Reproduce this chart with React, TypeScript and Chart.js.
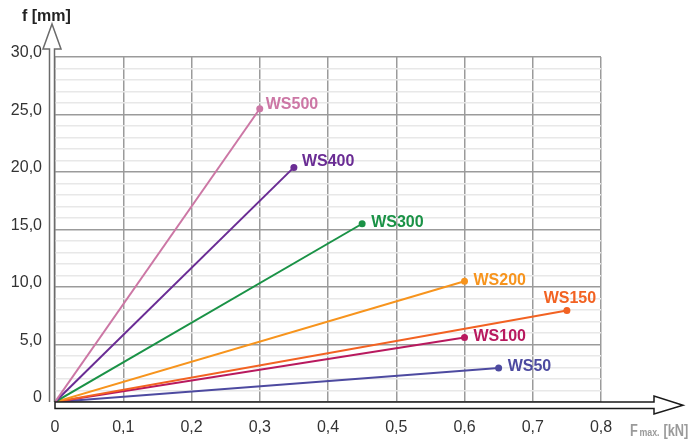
import React, { useEffect, useRef } from 'react';
import { Chart, registerables } from 'chart.js';

Chart.register(...registerables);

// ---- data ----
const seriesNames = ['WS500', 'WS400', 'WS300', 'WS200', 'WS150', 'WS100', 'WS50'];
const maxForce = [0.3, 0.35, 0.45, 0.6, 0.75, 0.6, 0.65];
const maxDeflection = [25.5, 20.4, 15.5, 10.5, 7.95, 5.6, 2.95];
const seriesColors = ['#cc77a5', '#6a2c94', '#1a9246', '#f7941d', '#f26222', '#b8195e', '#4d4aa0'];
const xMin = 0;
const xMax = 0.8;
const xStep = 0.1;
const yMin = 0;
const yMax = 30;
const yMinorStep = 1;
const yMajorStep = 5;
const yAxisTitle = 'f [mm]';
const xAxisTitleMain = 'F';
const xAxisTitleSub = 'max.';
const xAxisTitleUnit = '[kN]';

const FONT = '"Liberation Sans", Arial, sans-serif';

const fmtDecimal = (v: number, digits: number) => {
  if (Math.abs(v) < 1e-9) return '0';
  return v.toFixed(digits).replace('.', ',');
};

const decorPlugin = {
  id: 'decor',
  afterDraw(chart: any) {
    const ctx = chart.ctx as CanvasRenderingContext2D;
    const xs = chart.scales.x;
    const ys = chart.scales.y;
    const area = chart.chartArea;
    const x0 = xs.getPixelForValue(0);
    const y0 = ys.getPixelForValue(0);

    ctx.save();
    // series end labels
    ctx.font = `bold 16px ${FONT}`;
    chart.data.datasets.forEach((ds: any, i: number) => {
      const meta = chart.getDatasetMeta(i);
      const pt = meta.data[meta.data.length - 1];
      if (!pt) return;
      ctx.fillStyle = ds.borderColor;
      const name = ds.label;
      if (name === 'WS150') {
        ctx.textAlign = 'center';
        ctx.textBaseline = 'middle';
        ctx.fillText(name, pt.x + 3, pt.y - 12);
      } else {
        let dx = 9;
        let dy = -1;
        if (name === 'WS500') { dx = 6; dy = -4; }
        if (name === 'WS400') { dx = 8; dy = -6; }
        ctx.textAlign = 'left';
        ctx.textBaseline = 'middle';
        ctx.fillText(name, pt.x + dx, pt.y + dy);
      }
    });

    // y axis arrow
    ctx.lineWidth = 1.5;
    ctx.strokeStyle = '#6b6b6b';
    ctx.fillStyle = '#ffffff';
    ctx.beginPath();
    ctx.moveTo(x0 - 5.5, y0);
    ctx.lineTo(x0 - 5.5, area.top - 8);
    ctx.lineTo(x0 - 12, area.top - 8);
    ctx.lineTo(x0 - 3, area.top - 33);
    ctx.lineTo(x0 + 6, area.top - 8);
    ctx.lineTo(x0 - 0.5, area.top - 8);
    ctx.lineTo(x0 - 0.5, y0);
    ctx.stroke();

    // x axis arrow
    ctx.strokeStyle = '#1a1a1a';
    ctx.beginPath();
    ctx.moveTo(x0, y0);
    ctx.lineTo(area.right + 53, y0);
    ctx.lineTo(area.right + 53, y0 - 6);
    ctx.lineTo(area.right + 82, y0 + 3.3);
    ctx.lineTo(area.right + 53, y0 + 12);
    ctx.lineTo(area.right + 53, y0 + 6.5);
    ctx.lineTo(x0, y0 + 6.5);
    ctx.closePath();
    ctx.fill();
    ctx.stroke();

    // y axis title
    ctx.fillStyle = '#222222';
    ctx.font = `bold 16px ${FONT}`;
    ctx.textAlign = 'left';
    ctx.textBaseline = 'alphabetic';
    ctx.fillText(yAxisTitle, x0 - 33, area.top - 36);

    // x axis title (slightly condensed)
    ctx.fillStyle = '#9a9a9a';
    ctx.translate(area.right + 29, y0 + 33.5);
    ctx.scale(0.8, 1);
    let tx = 0;
    ctx.font = `bold 16px ${FONT}`;
    ctx.fillText(xAxisTitleMain, tx, 0);
    tx += ctx.measureText(xAxisTitleMain).width + 2;
    ctx.font = `bold 11px ${FONT}`;
    ctx.fillText(xAxisTitleSub, tx, 0);
    tx += ctx.measureText(xAxisTitleSub).width + 5;
    ctx.font = `bold 16px ${FONT}`;
    ctx.fillText(xAxisTitleUnit, tx, 0);
    ctx.restore();
  },
};

export default function App() {
  const canvasRef = useRef<HTMLCanvasElement | null>(null);

  useEffect(() => {
    if (!canvasRef.current) return;
    const datasets = seriesNames.map((name, i) => ({
      label: name,
      data: [
        { x: 0, y: 0 },
        { x: maxForce[i], y: maxDeflection[i] },
      ],
      borderColor: seriesColors[i],
      backgroundColor: seriesColors[i],
      borderWidth: 2,
      pointRadius: [0, 3.5],
      pointHoverRadius: [0, 3.5],
      pointBorderWidth: 0,
      showLine: true,
      fill: false,
      tension: 0,
    }));

    const chart = new Chart(canvasRef.current, {
      type: 'line',
      data: { datasets },
      plugins: [decorPlugin],
      options: {
        animation: false,
        responsive: true,
        maintainAspectRatio: false,
        layout: { padding: { left: 0, top: 57, right: 88, bottom: 0 } },
        plugins: {
          legend: { display: false },
          tooltip: { enabled: false },
        },
        scales: {
          x: {
            type: 'linear',
            min: xMin,
            max: xMax,
            afterFit: (s: any) => {
              s.height = 39;
            },
            ticks: {
              stepSize: xStep,
              color: '#333333',
              font: { family: FONT, size: 16 },
              padding: 16,
              maxRotation: 0,
              autoSkip: false,
              callback: (v: any) => fmtDecimal(Number(v), 1),
            },
            grid: { color: '#9b9b9b', lineWidth: 1.5, drawTicks: false },
            border: { display: false },
          },
          y: {
            type: 'linear',
            min: yMin,
            max: yMax,
            afterFit: (s: any) => {
              s.width = 55;
            },
            ticks: {
              stepSize: yMinorStep,
              autoSkip: false,
              color: '#333333',
              font: { family: FONT, size: 16 },
              padding: 13,
              labelOffset: -4,
              callback: (v: any) => {
                const n = Number(v);
                return n % yMajorStep === 0 ? fmtDecimal(n, 1) : '';
              },
            },
            grid: {
              drawTicks: false,
              color: (c: any) =>
                c.tick && Math.round(c.tick.value) % yMajorStep === 0 ? '#9b9b9b' : '#e8e8e8',
              lineWidth: 1.5,
            },
            border: { display: false },
          },
        },
      } as any,
    });
    return () => chart.destroy();
  }, []);

  return (
    <div style={{ position: 'absolute', left: 0, top: 0, width: 689, height: 441, background: '#ffffff' }}>
      <canvas ref={canvasRef} />
    </div>
  );
}
